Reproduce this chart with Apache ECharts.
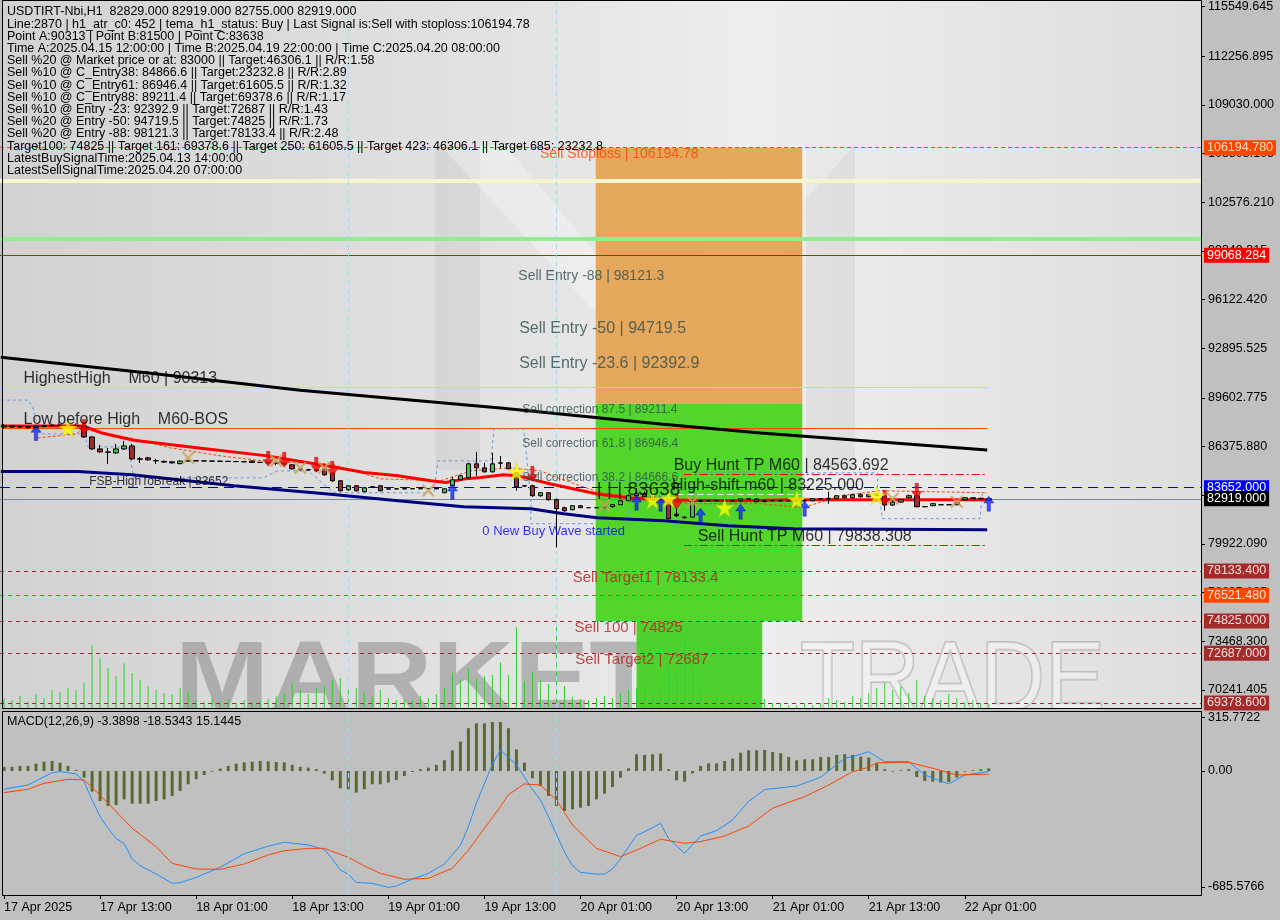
<!DOCTYPE html>
<html><head><meta charset="utf-8">
<script src="https://cdn.jsdelivr.net/npm/echarts@6/dist/echarts.min.js"></script>
<style>html,body{margin:0;padding:0;background:#c0c0c0;}#c{width:1280px;height:920px;}</style>
</head><body><div id="c"></div>
<script>
// ---------------- DATA ----------------
const FONT = '"Liberation Sans", Arial, sans-serif';
const barCount = 150;
const months = ['Jan','Feb','Mar','Apr','May','Jun','Jul','Aug','Sep','Oct','Nov','Dec'];
const categories = [];
for (let i = 0; i < barCount; i++) {
  const d = new Date(Date.UTC(2025, 3, 17, 1 + i));
  categories.push(d.getUTCDate() + ' ' + months[d.getUTCMonth()] + ' ' + String(d.getUTCHours()).padStart(2, '0') + ':00');
}
const xTickLabels = ['17 Apr 2025','17 Apr 13:00','18 Apr 01:00','18 Apr 13:00','19 Apr 01:00','19 Apr 13:00','20 Apr 01:00','20 Apr 13:00','21 Apr 01:00','21 Apr 13:00','22 Apr 01:00'];
const priceTicks = [115549.645,112256.895,109030,105803.105,102576.21,99349.315,96122.42,92895.525,89602.775,86375.88,83148.985,79922.09,76695.195,73468.3,70241.405];
const macdTicks = [315.7722, 0, -685.5766];
const macdTickLabels = ['315.7722', '0.00', '-685.5766'];

// OHLC rows: [open, close, low, high]
const ohlc = [
[87677,87743,87546,87875],[87743,87677,87612,87809],[87677,87700,87612,87780],[87700,87650,87560,87760],[87650,87720,87480,87800],
[87720,87760,87650,87830],[87760,87800,87700,87900],[87800,87760,87700,87880],[87760,87780,87690,87860],[87780,87740,87680,87900],
[87740,87017,86950,87941],[87017,86224,86160,87050],[86224,86026,85960,86489],[86026,86000,85234,86291],[85960,86224,85900,86555],
[86224,86423,86160,86753],[86423,85564,85498,86555],[85564,85540,85300,85696],[85630,85498,85450,85700],[85450,85432,85234,85564],
[85400,85350,85300,85450],[85366,85300,85250,85400],[85250,85420,85200,85450],[85420,85440,85380,85480],[85440,85430,85400,85470],
[85430,85420,85390,85460],[85420,85410,85380,85450],[85410,85400,85370,85440],[85400,85390,85360,85430],[85390,85380,85350,85420],
[85380,85370,85340,85410],[85420,85330,85300,85440],[85330,85330,85300,85360],[85330,85300,85200,85360],[85300,85260,85150,85330],
[85260,85230,85150,85290],[85168,84904,84850,85200],[84904,84850,84780,84950],[84850,84830,84770,84904],[84830,84780,84700,84870],
[84904,84507,84450,84950],[84639,84111,84045,84700],[84111,83450,83400,84150],[83516,83780,83450,83800],[83780,83450,83400,83820],
[83384,83648,83350,83700],[83700,83714,83650,83750],[83780,83450,83400,83800],[83560,83580,83540,83600],[83580,83570,83550,83600],
[83570,83590,83550,83610],[83590,83580,83560,83610],[83580,83590,83560,83610],[83590,83600,83560,83620],[83600,83580,83550,83620],
[83318,83582,83290,83600],[83780,84177,83750,84375],[84177,84441,84150,84500],[84309,85234,84280,85300],[85234,84970,84441,86026],
[84970,84705,84650,85300],[84705,85234,84650,85960],[85300,85280,84970,85762],[85300,84904,84850,85350],[84639,83714,83450,84700],
[83780,83760,83700,83820],[83780,83120,83050,83850],[83120,83318,83050,83350],[83318,82856,82800,83350],[82856,82261,79685,82950],
[82327,82128,82050,82400],[82195,82459,82150,82500],[82459,82327,82300,82500],[82327,82330,82300,82360],[82330,82327,82300,82360],
[82327,82380,82300,82420],[82393,82525,82350,82560],[82525,82789,82500,82850],[82789,83120,82750,83200],[83120,83250,83000,83638],
[83250,83050,82950,83400],[83050,82900,82800,83200],[82900,82850,82750,83100],[82657,81600,81550,82700],[81900,81800,81700,82300],
[81666,81700,81600,81750],[81700,82750,81650,82800],[82750,82800,82700,82850],[82800,82790,82750,82850],[82790,82800,82760,82830],
[82800,82780,82700,82850],[82780,82790,82740,82830],[82789,82922,82750,82950],[82922,82900,82880,82950],[82900,82723,82700,82950],
[82723,82790,82700,82850],[82790,82800,82750,82850],[82800,82780,82750,82850],[82780,82790,82750,82830],[82790,82800,82700,82850],
[82800,82780,82650,82850],[82789,82922,82750,82950],[82922,82910,82880,82950],[82910,82950,82591,83384],[82950,83120,82900,83150],
[83120,82988,82950,83200],[82988,83186,82950,83250],[83186,83054,83000,83300],[83054,83186,83000,83250],[83186,83150,83050,83300],
[83100,82500,82128,83150],[82500,82700,82450,82800],[82700,82850,82650,82900],[82988,83120,82950,83200],[83120,82393,82350,83450],
[82393,82400,82350,82450],[82459,82591,82430,82620],[82525,82520,82490,82560],[82520,82525,82490,82560],[82525,82657,82500,82700],
[82856,82988,82820,83020],[82988,82922,82900,83000],[82922,82950,82900,82990],[82829,82919,82755,82919]
];
const volume = [
100,80,120,60,140,100,180,160,200,180, 250,630,500,400,320,450,350,280,220,180,
150,140,200,160,80,60,100,70,90,50, 80,60,70,90,120,150,250,180,140,200,
220,280,300,180,200,150,120,180,100,80, 90,70,120,100,140,200,350,280,400,300,
320,330,460,330,810,270,370,280,240,870, 220,110,90,80,100,120,100,150,180,200,
210,90,150,420,340,690,400,170,60,100, 50,80,80,60,70,90,50,50,30,30,
50,30,50,100,80,60,120,100,150,200, 250,180,220,150,280,120,100,80,140,100,
60,80,50,40];
const macdHist = [
24,24,30,30,43,55,59,49,30,6, -39,-122,-178,-207,-201,-168,-193,-193,-193,-178,
-168,-148,-118,-79,-49,-24,-4,14,30,43, 51,55,59,57,53,51,36,24,20,10,
-16,-55,-103,-108,-128,-108,-79,-79,-69,-53, -30,-6,10,20,36,63,122,174,253,282,
282,290,290,253,128,49,-43,-89,-148,-207, -237,-227,-217,-207,-168,-134,-95,-39,16,99,
95,99,103,10,-55,-63,-14,30,45,45, 59,73,108,122,122,124,112,105,83,63,
69,69,83,83,95,99,95,85,79,45, 10,-4,4,10,-36,-59,-63,-69,-65,-39,
-4,4,10,15];
const macdMain = [[0,-108],[3,-83],[6,-10],[7,-4],[9,-17],[10,-63],[11,-172],[12,-270],[13,-340],[14,-400],[15,-430],[16,-520],[17,-560],[19,-610],[21,-665],[22,-661],[24,-630],[27,-570],[30,-490],[33,-445],[35,-422],[38,-438],[40,-465],[41,-520],[42,-586],[43,-610],[44,-660],[46,-665],[48,-689],[49,-681],[51,-640],[53,-606],[55,-550],[57,-440],[58,-330],[59,-190],[61,40],[62,124],[64,36],[66,-110],[67,-172],[68,-270],[70,-480],[71,-560],[72,-600],[74,-610],[75,-610],[76,-580],[77,-520],[79,-380],[80,-360],[82,-310],[83,-400],[85,-487],[87,-385],[89,-353],[91,-290],[93,-180],[95,-110],[99,-89],[102,-37],[105,75],[106,85],[108,114],[110,55],[113,55],[115,-24],[118,-77],[120,-24],[123,-3.39]];
const macdSignal = [[0,-128],[3,-108],[5,-73],[8,-49],[10,-53],[11,-97],[13,-191],[16,-339],[19,-448],[21,-547],[24,-580],[27,-582],[30,-551],[33,-497],[35,-472],[38,-458],[40,-458],[43,-511],[45,-562],[47,-606],[50,-641],[53,-635],[56,-576],[58,-468],[62,-211],[63,-140],[65,-77],[67,-83],[69,-172],[71,-320],[74,-458],[77,-507],[79,-468],[82,-404],[85,-428],[87,-418],[90,-385],[93,-326],[96,-220],[100,-152],[103,-83],[106,-4],[108,22],[109,49],[113,51],[116,16],[119,-24],[123,-18.53]];

// moving averages (bar index, price)
const blackMA = [[-0.4,92300],[18.3,91243],[37,90120],[62,88931],[82,87874],[94.5,87280],[122.8,86157]];
const redMA = [[-0.4,87743],[9.9,87743],[12.1,87300],[16.2,86800],[24.6,86270],[32.9,85762],[40.8,85054],[45,84658],[49.2,84441],[53.3,84111],[55.2,83998],[57.4,84223],[59.5,84329],[62.4,84507],[64.1,84441],[65.8,84223],[68.3,83893],[69.9,83714],[74.1,83232],[78.2,82968],[82.4,82836],[92,82789],[99,82856],[109,82856],[122.8,82856]];
const navyMA = [[-0.4,84727],[9.2,84727],[16,84507],[28.7,83780],[40.8,83218],[49.2,82789],[57.4,82393],[65.8,82261],[69.9,81930],[74.1,81666],[82.4,81468],[90.4,81138],[98.6,80939],[122.8,80873]];
const orangeTrail = [[4.2,86950],[9,87215],[9.9,87545],[12.1,87281],[15.8,86950],[20.8,86290],[27.1,85762],[33.3,85366],[40.8,85234],[47,84243],[54.5,84111],[58.3,84771],[63.3,84970],[67,84771],[69.5,84243],[74.5,83318],[80.7,82988],[85.7,82591],[94.5,82591],[99.8,82327],[104.5,83120],[109.4,83450],[122.8,83318]];
const envelopeA = [[-0.4,89460],[3.1,89460],[3.7,88800],[4.4,87215],[9.9,87215],[10.2,86950],[10.5,86355],[15.5,86355],[16.1,84639],[16.2,84309],[32.4,84309],[34.2,84771],[38,84771],[41.2,83318],[53.7,83318],[54.2,85432],[60.8,85432],[61.2,87545],[64.9,87545],[65.2,86092],[65.8,82789],[65.8,81270],[77.9,81270],[78,82128]];
const envelopeB = [[86.6,84639],[109.1,84639],[109.1,83582]];
const envelopeC = [[109.4,82789],[109.7,81600],[121.9,81600],[122.2,83318]];

// signals (bar index, price)
const buyArrows = [[4,87281],[56,83384],[79,82657],[82,82591],[87,81798],[92,82062],[100,82261],[123,82591]];
const sellArrows = [[10,87677],[33,85564],[35,85498],[39,85168],[41,84904],[66,84573],[84,82723],[110,82988],[114,83450]];
const stars = [[8,87612],[64,84705],[81,82856],[83,82922],[90,82327],[99,82856],[109,83120]];
const crosses = [[23,85630],[34,85432],[37,84970],[40,84970],[53,83450],[75,82459],[86,82723],[111,82922],[119,82723]];

// levels
const stopLoss = 106194.78, paleBand = 103990, greenBand = 100160, redLevel = 99068.284;
const highestHigh = 90313, lowBeforeHigh = 87610;
const buyHuntTP = 84563.692, fsbHigh = 83652, highShift = 83225, lastPrice = 82919, sellHuntTP = 79838.308;
const sellTargets = [78133.4, 74825, 72687, 69378.6];
const midTarget = 76521.48;
const correction875 = 89211.4;

// zones [x0, y0, x1, y1]
const orangeZone = [73.9, stopLoss, 99.7, correction875];
const greenZone = [73.9, correction875, 99.7, 74825];
const greenLowZone = [79.0, 74825, 94.7, 69050];

const headerLines = [
'USDTIRT-Nbi,H1  82829.000 82919.000 82755.000 82919.000',
'Line:2870 | h1_atr_c0: 452 | tema_h1_status: Buy | Last Signal is:Sell with stoploss:106194.78',
'Point A:90313 | Point B:81500 | Point C:83638',
'Time A:2025.04.15 12:00:00 | Time B:2025.04.19 22:00:00 | Time C:2025.04.20 08:00:00',
'Sell %20 @ Market price or at: 83000 || Target:46306.1 || R/R:1.58',
'Sell %10 @ C_Entry38: 84866.6 || Target:23232.8 || R/R:2.89',
'Sell %10 @ C_Entry61: 86946.4 || Target:61605.5 || R/R:1.32',
'Sell %10 @ C_Entry88: 89211.4 || Target:69378.6 || R/R:1.17',
'Sell %10 @ Entry -23: 92392.9 || Target:72687 || R/R:1.43',
'Sell %20 @ Entry -50: 94719.5 || Target:74825 || R/R:1.73',
'Sell %20 @ Entry -88: 98121.3 || Target:78133.4 || R/R:2.48',
'Target100: 74825 || Target 161: 69378.6 || Target 250: 61605.5 || Target 423: 46306.1 || Target 685: 23232.8',
'LatestBuySignalTime:2025.04.13 14:00:00',
'LatestSellSignalTime:2025.04.20 07:00:00'
];
const macdTitle = 'MACD(12,26,9) -3.3898 -18.5343 15.1445';

// annotations: text, bar index, price, style, vertical anchor
const annotations = [
['Sell Stoploss | 106194.78', 67.0, 106194.78, 'stop', 'top'],
['Sell Entry -88 | 98121.3', 64.3, 98121.3, 'entryS', 'top'],
['Sell Entry -50 | 94719.5', 64.4, 94719.5, 'entryL', 'top'],
['Sell Entry -23.6 | 92392.9', 64.4, 92392.9, 'entryL', 'top'],
['Sell correction 87.5 | 89211.4', 64.8, 89211.4, 'corr', 'top'],
['Sell correction 61.8 | 86946.4', 64.8, 86946.4, 'corr', 'top'],
['Sell correction 38.2 | 84666.6', 64.8, 84666.6, 'corr', 'top'],
['Sell Target1 | 78133.4', 71.1, 78133.4, 'target', 'top'],
['Sell 100 | 74825', 71.3, 74825, 'target', 'top'],
['Sell Target2 | 72687', 71.4, 72687, 'target', 'top'],
['HighestHigh    M60 | 90313', 2.5, 90313, 'big', 'bottom'],
['Low before High    M60-BOS', 2.5, 87610, 'big', 'bottom'],
['FSB-HighToBreak | 83652', 10.7, 83652, 'small', 'bottom'],
['Buy Hunt TP M60 | 84563.692', 83.7, 84563.692, 'big', 'bottom'],
['High-shift m60 | 83225.000', 83.5, 83225, 'big', 'bottom'],
['Sell Hunt TP M60 | 79838.308', 86.7, 79838.308, 'big', 'bottom'],
['0 New Buy Wave started', 59.8, 80741, 'wave', 'middle'],
['| | | 83638', 74.1, 83450, 'pointC', 'middle']
];

// ---------------- STYLES / OPTION ----------------
const textStyles = {
  stop: {fontSize: 14, color: '#ff4500'},
  entryS: {fontSize: 14, color: '#2f4f4f'},
  entryL: {fontSize: 16, color: '#2f4f4f'},
  corr: {fontSize: 12, color: '#2f4f4f'},
  target: {fontSize: 15, color: '#b22222'},
  big: {fontSize: 16, color: '#000000'},
  small: {fontSize: 12, color: '#000000'},
  wave: {fontSize: 13, color: '#0000ff'},
  pointC: {fontSize: 19, color: '#000000'}
};
function boxLabel(text, bg, fg) {
  return {show: true, position: 'end', distance: 3, formatter: text, backgroundColor: bg, color: fg,
    fontSize: 12.5, fontFamily: FONT, padding: [1, 3, 1, 3]};
}
const brownBox = '#a52a2a', brownText = '#f3dede';
const levelLines = [
  {yAxis: stopLoss, lineStyle: {color: '#ff4500', type: [4, 3], width: 1}, label: boxLabel('106194.780', '#ff4500', '#ffe0c0')},
  {yAxis: paleBand, lineStyle: {color: '#f6f6cc', type: 'solid', width: 4}},
  {yAxis: greenBand, lineStyle: {color: '#90ee90', type: 'solid', width: 4}},
  {yAxis: redLevel, lineStyle: {color: '#ff0000', type: 'solid', width: 1}, label: boxLabel('99068.284', '#ff0000', '#ffffff')},
  [{coord: [0, highestHigh], lineStyle: {color: '#adff2f', type: 'solid', width: 1}}, {coord: [122.8, highestHigh]}],
  [{coord: [0, lowBeforeHigh], lineStyle: {color: '#ff4500', type: 'solid', width: 1}}, {coord: [122.8, lowBeforeHigh]}],
  [{coord: [84.9, buyHuntTP], lineStyle: {color: '#ff0000', type: [8, 3, 2, 3], width: 1}}, {coord: [122.8, buyHuntTP]}],
  {yAxis: fsbHigh, lineStyle: {color: '#0000cd', type: [10, 6], width: 1}, label: boxLabel('83652.000', '#0000ff', '#ffffff')},
  [{coord: [84.1, highShift], lineStyle: {color: '#ffffff', type: [6, 4], width: 1}}, {coord: [99.5, highShift]}],
  {yAxis: lastPrice, lineStyle: {color: '#778899', type: 'solid', width: 1}, label: boxLabel('82919.000', '#000000', '#ffffff')},
  [{coord: [84.9, sellHuntTP], lineStyle: {color: '#ff0000', type: [8, 3, 2, 3], width: 1}}, {coord: [122.8, sellHuntTP]}],
  {yAxis: sellTargets[0], lineStyle: {color: brownBox, type: [4, 4], width: 1}, label: boxLabel('78133.400', brownBox, brownText)},
  {yAxis: midTarget, lineStyle: {color: '#ff4500', type: [4, 4], width: 1}, label: boxLabel('76521.480', '#ff4500', '#ffe8d8')},
  {yAxis: sellTargets[1], lineStyle: {color: brownBox, type: [4, 4], width: 1}, label: boxLabel('74825.000', brownBox, brownText)},
  {yAxis: sellTargets[2], lineStyle: {color: brownBox, type: [4, 4], width: 1}, label: boxLabel('72687.000', brownBox, brownText)},
  {yAxis: sellTargets[3], lineStyle: {color: brownBox, type: [4, 4], width: 1}, label: boxLabel('69378.600', brownBox, brownText)}
];
function zone(z, color, opacity) {
  return [{coord: [z[0], z[1]], itemStyle: {color: color, opacity: opacity}}, {coord: [z[2], z[3]]}];
}
const arrowPath = 'path://M50,0 L100,45 L66,45 L66,100 L34,100 L34,45 L0,45 Z';
const starPath = 'path://M50,0 L61,35 L98,35 L68,57 L79,91 L50,70 L21,91 L32,57 L2,35 L39,35 Z';
const crossPath = 'path://M0,12 L12,0 L50,38 L88,0 L100,12 L62,50 L100,88 L88,100 L50,62 L12,100 L0,88 L38,50 Z';

const annData = annotations.map(a => ({
  value: [a[1], a[2]],
  label: Object.assign({show: true, position: [0, 0], align: 'left', verticalAlign: a[4], formatter: a[0], fontFamily: FONT}, textStyles[a[3]])
}));

const graphics = [
  {type: 'rect', z: -20, shape: {x: 0, y: 0, width: 1280, height: 920}, style: {fill: '#c0c0c0'}},
  {type: 'rect', z: -19, shape: {x: 3, y: 1, width: 1198, height: 707},
    style: {fill: new echarts.graphic.LinearGradient(0, 0, 1, 0, [{offset: 0, color: '#d2d2d2'}, {offset: 0.45, color: '#e4e4e4'}, {offset: 0.62, color: '#eeeeee'}, {offset: 1, color: '#dedede'}])}},
  {type: 'polygon', z: -18, shape: {points: [[435,145],[480,145],[480,470],[435,470]]}, style: {fill: 'rgba(170,170,170,0.18)'}},
  {type: 'polygon', z: -18, shape: {points: [[806,145],[855,145],[855,470],[806,470]]}, style: {fill: 'rgba(170,170,170,0.18)'}},
  {type: 'polygon', z: -18, shape: {points: [[440,145],[505,145],[660,330],[640,360]]}, style: {fill: 'rgba(255,255,255,0.3)'}},
  {type: 'polygon', z: -18, shape: {points: [[790,145],[855,145],[660,360],[640,330]]}, style: {fill: 'rgba(255,255,255,0.3)'}},
  {type: 'text', z: -17, x: 175, y: 733, scaleX: 1.13, style: {text: 'MARKETZI', fill: 'rgba(120,120,120,0.45)', font: 'bold 100px ' + FONT, verticalAlign: 'bottom'}},
  {type: 'text', z: -17, x: 800, y: 733, scaleX: 0.9, style: {text: 'TRADE', fill: 'rgba(255,255,255,0.35)', stroke: 'rgba(150,150,150,0.5)', lineWidth: 2, font: '100px ' + FONT, verticalAlign: 'bottom'}},
  {type: 'rect', z: -16, shape: {x: 0, y: 709, width: 1201, height: 211}, style: {fill: '#c0c0c0'}},
  // plain band over the MACD zero level, kept below the MACD series (z 3-4)
  {type: 'rect', z: 1, shape: {x: 3, y: 767, width: 1198, height: 7}, style: {fill: '#c0c0c0'}},
  {type: 'rect', z: 40, shape: {x: 2.5, y: 0.5, width: 1199, height: 708}, style: {fill: 'none', stroke: '#000', lineWidth: 1}},
  {type: 'rect', z: 40, shape: {x: 2.5, y: 711.5, width: 1199, height: 184}, style: {fill: 'none', stroke: '#000', lineWidth: 1}},
  {type: 'text', z: 41, x: 7, y: 722, style: {text: macdTitle, fill: '#000', font: '12.5px ' + FONT, verticalAlign: 'middle'}}
].concat(headerLines.map((t, k) => ({type: 'text', z: 41, x: 7, y: 12 + k * 12.2,
  style: {text: t, fill: '#000', font: '12.5px ' + FONT, verticalAlign: 'middle'}})));

const hiddenAxis = {show: false, axisLine: {show: false, onZero: false}, axisTick: {show: false}, axisLabel: {show: false}, splitLine: {show: false}};

const option = {
  animation: false,
  backgroundColor: '#c0c0c0',
  textStyle: {fontFamily: FONT},
  grid: [
    {left: -1, right: 79, top: 0, height: 708},
    {left: -1, right: 79, top: 712, height: 183}
  ],
  xAxis: [
    Object.assign({type: 'category', gridIndex: 0, data: categories, boundaryGap: true}, hiddenAxis),
    {type: 'category', gridIndex: 1, position: 'bottom', data: categories, boundaryGap: true,
      axisLine: {show: false, onZero: false},
      axisTick: {show: true, alignWithLabel: true, length: 4, lineStyle: {color: '#000'}, interval: (i) => i % 12 === 0 && i / 12 < xTickLabels.length},
      axisLabel: {show: true, interval: 0, align: 'left', margin: 6, color: '#000', fontSize: 12.5, fontFamily: FONT,
        formatter: (v, i) => (i % 12 === 0 && i / 12 < xTickLabels.length) ? xTickLabels[i / 12] : ''},
      splitLine: {show: false}},
    Object.assign({type: 'value', gridIndex: 0, min: -0.5, max: barCount - 0.5}, hiddenAxis)
  ],
  yAxis: [
    {type: 'value', gridIndex: 0, position: 'right', min: 69050, max: 115814, scale: true,
      axisLine: {show: true, onZero: false, lineStyle: {color: '#000'}},
      axisTick: {show: true, customValues: priceTicks, length: 4, lineStyle: {color: '#000'}},
      axisLabel: {show: true, customValues: priceTicks, formatter: v => v.toFixed(3), color: '#000', fontSize: 12.5, margin: 7, fontFamily: FONT},
      splitLine: {show: false}},
    Object.assign({type: 'value', gridIndex: 0, position: 'left', min: 0, max: 7080}, hiddenAxis),
    {type: 'value', gridIndex: 1, position: 'right', min: -734, max: 349,
      axisLine: {show: true, onZero: false, lineStyle: {color: '#000'}},
      axisTick: {show: true, customValues: macdTicks, length: 4, lineStyle: {color: '#000'}},
      axisLabel: {show: true, customValues: macdTicks, color: '#000', fontSize: 12.5, margin: 7, fontFamily: FONT,
        formatter: v => macdTickLabels[macdTicks.indexOf(v)] !== undefined ? macdTickLabels[macdTicks.indexOf(v)] : String(v)},
      splitLine: {show: false}}
  ],
  graphic: {elements: graphics},
  series: [
    {name: 'levels', type: 'line', xAxisIndex: 2, yAxisIndex: 0, data: [], z: 2, silent: true,
      markLine: {symbol: ['none', 'none'], silent: true, label: {show: false}, emphasis: {disabled: true}, data: levelLines}},
    {name: 'zones', type: 'line', xAxisIndex: 2, yAxisIndex: 0, data: [], z: 3, silent: true,
      markArea: {silent: true, emphasis: {disabled: true}, label: {show: false},
        data: [zone(orangeZone, '#e3a04c', 0.9), zone(greenZone, '#52d62b', 1), zone(greenLowZone, '#4dd12c', 1)]}},
    {name: 'volume', type: 'bar', xAxisIndex: 0, yAxisIndex: 1, data: volume, barWidth: 1, z: 4, silent: true,
      itemStyle: {color: '#32cd32'},
      markLine: {symbol: ['none', 'none'], silent: true, label: {show: false},
        lineStyle: {color: '#add8e6', type: [5, 4], width: 1}, data: [{xAxis: categories[43]}, {xAxis: categories[69]}]}},
    {name: 'envA', type: 'line', xAxisIndex: 2, yAxisIndex: 0, data: envelopeA, symbol: 'none', z: 5, lineStyle: {color: '#6495ed', width: 1, type: [3, 3]}},
    {name: 'envB', type: 'line', xAxisIndex: 2, yAxisIndex: 0, data: envelopeB, symbol: 'none', z: 5, lineStyle: {color: '#6495ed', width: 1, type: [3, 3]}},
    {name: 'envC', type: 'line', xAxisIndex: 2, yAxisIndex: 0, data: envelopeC, symbol: 'none', z: 5, lineStyle: {color: '#6495ed', width: 1, type: [3, 3]}},
    {name: 'trail', type: 'line', xAxisIndex: 2, yAxisIndex: 0, data: orangeTrail, symbol: 'none', z: 5, lineStyle: {color: '#ff4500', width: 1, type: [3, 2]}},
    {name: 'blackMA', type: 'line', xAxisIndex: 2, yAxisIndex: 0, data: blackMA, symbol: 'none', z: 6, lineStyle: {color: '#000000', width: 3}},
    {name: 'navyMA', type: 'line', xAxisIndex: 2, yAxisIndex: 0, data: navyMA, symbol: 'none', z: 6, lineStyle: {color: '#000080', width: 3}},
    {name: 'redMA', type: 'line', xAxisIndex: 2, yAxisIndex: 0, data: redMA, symbol: 'none', z: 6, lineStyle: {color: '#ff0000', width: 3}},
    {name: 'price', type: 'candlestick', xAxisIndex: 0, yAxisIndex: 0, data: ohlc, barWidth: 5, z: 7,
      itemStyle: {color: '#3cc83c', color0: '#a52a2a', borderColor: '#000', borderColor0: '#000', borderWidth: 1}},
    {name: 'buy', type: 'scatter', xAxisIndex: 2, yAxisIndex: 0, data: buyArrows, symbol: arrowPath, symbolSize: [10, 15], z: 8,
      itemStyle: {color: '#1030ff', borderColor: '#000090', borderWidth: 0.5}},
    {name: 'sell', type: 'scatter', xAxisIndex: 2, yAxisIndex: 0, data: sellArrows, symbol: arrowPath, symbolRotate: 180, symbolSize: [10, 15], z: 8,
      itemStyle: {color: '#ff0000', borderColor: '#a00000', borderWidth: 0.5}},
    {name: 'stars', type: 'scatter', xAxisIndex: 2, yAxisIndex: 0, data: stars, symbol: starPath, symbolSize: 18, z: 8,
      itemStyle: {color: '#ffff00', borderColor: '#c8c800', borderWidth: 0.5}},
    {name: 'crosses', type: 'scatter', xAxisIndex: 2, yAxisIndex: 0, data: crosses, symbol: crossPath, symbolSize: 13, z: 8,
      itemStyle: {color: '#c8a456'}},
    {name: 'annotations', type: 'scatter', xAxisIndex: 2, yAxisIndex: 0, data: annData, symbol: 'circle', symbolSize: 1, z: 9,
      itemStyle: {color: 'rgba(0,0,0,0)'}, silent: true},
    {name: 'macdHist', type: 'bar', xAxisIndex: 1, yAxisIndex: 2, data: macdHist, barWidth: 3, z: 3,
      itemStyle: {color: '#556b2f'},
      markLine: {symbol: ['none', 'none'], silent: true, label: {show: false},
        lineStyle: {color: '#add8e6', type: [5, 4], width: 1}, data: [{xAxis: categories[43]}, {xAxis: categories[69]}]}},
    {name: 'macd', type: 'line', xAxisIndex: 1, yAxisIndex: 2, data: macdMain, symbol: 'none', z: 4, lineStyle: {color: '#1e90ff', width: 1}},
    {name: 'signal', type: 'line', xAxisIndex: 1, yAxisIndex: 2, data: macdSignal, symbol: 'none', z: 4, lineStyle: {color: '#ff4500', width: 1}}
  ]
};
const chart = echarts.init(document.getElementById('c'), null, {renderer: 'canvas'});
chart.setOption(option);
</script></body></html>
